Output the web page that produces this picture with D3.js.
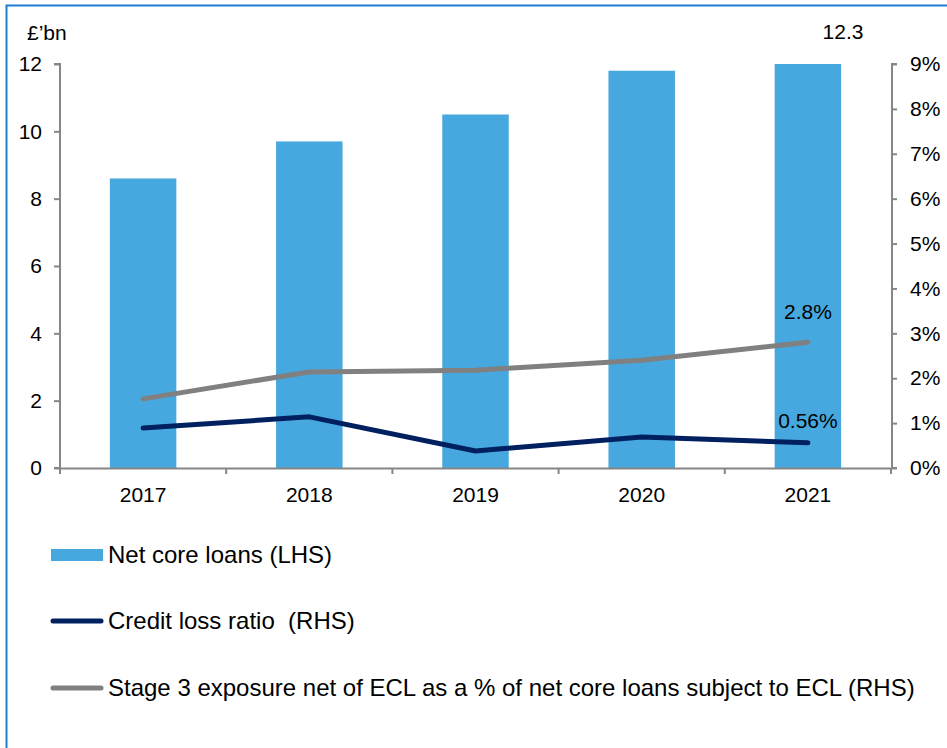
<!DOCTYPE html>
<html><head><meta charset="utf-8">
<script src="https://cdn.jsdelivr.net/npm/d3@7"></script>
<style>body{margin:0;background:#fff}svg{display:block}text{font-family:"Liberation Sans",Arial,sans-serif}</style>
</head><body>
<script>
const years = ["2017","2018","2019","2020","2021"];
const netCoreLoans = [8.6, 9.7, 10.5, 11.8, 12.3];
const creditLossRatio = [0.89, 1.14, 0.38, 0.69, 0.56];
const stage3 = [1.54, 2.14, 2.18, 2.40, 2.80];
const leftTicks = [0,2,4,6,8,10,12];
const rightTicks = [0,1,2,3,4,5,6,7,8,9];
const legendLabels = ["Net core loans (LHS)","Credit loss ratio  (RHS)","Stage 3 exposure net of ECL as a % of net core loans subject to ECL (RHS)"];

const W=947,H=748;
const svg=d3.select("body").append("svg").attr("width",W).attr("height",H);
svg.append("path").attr("d",`M6.5,${H} V5.5 H${W}`).attr("fill","none").attr("stroke","#1c7fd3").attr("stroke-width",2);

const x=d3.scaleBand().domain(years).range([60,891]).paddingInner(0.6).paddingOuter(0.3);
const xb=d3.scaleBand().domain(years).range([60,891]);
const yL=d3.scaleLinear().domain([0,12]).range([468,64]);
const yR=d3.scaleLinear().domain([0,9]).range([468,64]);

// bars (value above 12 clipped at the axis max)
svg.selectAll("rect.bar").data(netCoreLoans).join("rect").attr("class","bar")
 .attr("x",(d,i)=>x(years[i])).attr("width",x.bandwidth())
 .attr("y",d=>yL(Math.min(d,12))).attr("height",d=>yL(0)-yL(Math.min(d,12)))
 .attr("fill","#46a8de");

// axes
const gray="#868686";
const tfs="21px";
const ax=svg.append("g").attr("transform","translate(60,0)")
 .call(d3.axisLeft(yL).tickValues(leftTicks).tickSize(6).tickPadding(12));
const ar=svg.append("g").attr("transform","translate(892,0)")
 .call(d3.axisRight(yR).tickValues(rightTicks).tickFormat(d=>d+"%").tickSize(5).tickPadding(13));
const axb=svg.append("g").attr("transform","translate(0,468)")
 .call(d3.axisBottom(xb).tickSize(0).tickPadding(19));
svg.append("g").selectAll("line").data(d3.range(6)).join("line")
 .attr("x1",i=>60+i*xb.step()).attr("x2",i=>60+i*xb.step()).attr("y1",468).attr("y2",474)
 .attr("stroke",gray).attr("stroke-width",2);
[ax,ar,axb].forEach(g=>{
  g.select(".domain").attr("stroke",gray).attr("stroke-width",2);
  g.selectAll(".tick line").attr("stroke",gray).attr("stroke-width",2);
  g.selectAll(".tick text").attr("fill","#000").style("font-size",tfs).style("font-family",'"Liberation Sans",Arial,sans-serif');
});
ax.select(".domain").attr("d","M-6,468H0V64H-6");
ar.select(".domain").attr("d","M5,468H0V64H5");

// lines
const cx=i=>xb(years[i])+xb.bandwidth()/2;
const line=d3.line().x((d,i)=>cx(i)).y(d=>yR(d));
svg.append("path").datum(stage3).attr("d",line).attr("fill","none").attr("stroke","#808080").attr("stroke-width",5).attr("stroke-linecap","round").attr("stroke-linejoin","round");
svg.append("path").datum(creditLossRatio).attr("d",line).attr("fill","none").attr("stroke","#002060").attr("stroke-width",5).attr("stroke-linecap","round").attr("stroke-linejoin","round");

// data labels
svg.append("text").attr("x",843).attr("y",39).attr("text-anchor","middle").style("font-size",tfs).text(netCoreLoans[4]);
svg.append("text").attr("x",cx(4)).attr("y",yR(stage3[4])-23).attr("text-anchor","middle").style("font-size",tfs).text(stage3[4].toFixed(1)+"%");
svg.append("text").attr("x",cx(4)).attr("y",yR(creditLossRatio[4])-15).attr("text-anchor","middle").style("font-size",tfs).text(creditLossRatio[4].toFixed(2)+"%");
svg.append("text").attr("x",27).attr("y",40).style("font-size",tfs).text("£’bn");

// legend
const lg=svg.append("g");
const ly=[555,621,688];
lg.append("rect").attr("x",51).attr("y",ly[0]-6).attr("width",52).attr("height",12).attr("fill","#46a8de");
lg.append("line").attr("x1",53).attr("x2",101).attr("y1",ly[1]).attr("y2",ly[1]).attr("stroke","#002060").attr("stroke-width",5).attr("stroke-linecap","round");
lg.append("line").attr("x1",53).attr("x2",101).attr("y1",ly[2]).attr("y2",ly[2]).attr("stroke","#808080").attr("stroke-width",5).attr("stroke-linecap","round");
lg.selectAll("text").data(legendLabels).join("text").attr("x",108).attr("y",(d,i)=>ly[i]+8)
 .style("font-size","24px").style("white-space","pre").attr("xml:space","preserve").text(d=>d);
</script>
</body></html>
